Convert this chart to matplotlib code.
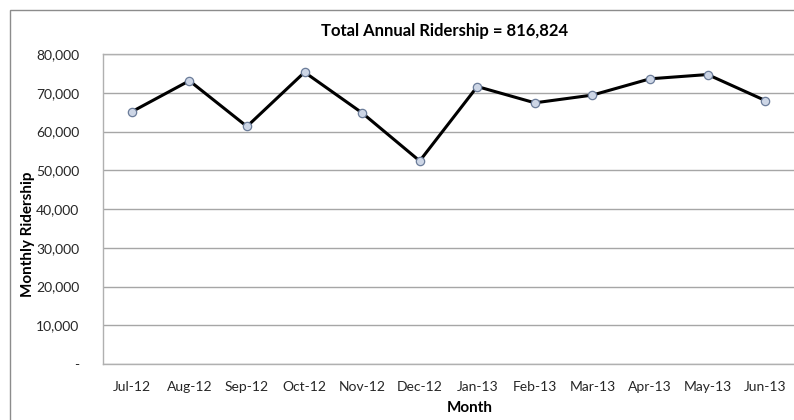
import matplotlib.pyplot as plt
from matplotlib.patches import Rectangle
from matplotlib.ticker import FuncFormatter

# ---- DATI ----
months = ["Jul-12", "Aug-12", "Sep-12", "Oct-12", "Nov-12", "Dec-12",
          "Jan-13", "Feb-13", "Mar-13", "Apr-13", "May-13", "Jun-13"]
ridership = [65100, 73100, 61300, 75300, 64800, 52400,
             71600, 67400, 69400, 73600, 74700, 68000]
yticks = [0, 10000, 20000, 30000, 40000, 50000, 60000, 70000, 80000]

plt.rcParams['font.family'] = ['Lato', 'DejaVu Sans']

W, H = 794, 420
fig = plt.figure(figsize=(W / 100, H / 100), dpi=100)

# cornice esterna del grafico (esce oltre l'immagine a destra e in basso)
fig.patches.append(Rectangle((10 / W, -0.1), 1.2, 1 - 10 / H + 0.1,
                             transform=fig.transFigure, fill=False,
                             edgecolor='#8c8c8c', linewidth=1.0))

ax = fig.add_axes([103 / W, 1 - 364 / H, (W - 103) / W, (364 - 54) / H])
x = range(len(months))
ax.plot(x, ridership, color='black', linewidth=2.2, zorder=3,
        marker='o', markersize=6, markerfacecolor='#cdd6e6',
        markeredgecolor='#6b7c99', markeredgewidth=0.9)

ax.set_xlim(-0.5, len(months) - 0.5)
ax.set_ylim(0, 80000)
ax.set_yticks(yticks)
ax.yaxis.set_major_formatter(FuncFormatter(lambda v, p: '-' if v == 0 else f"{int(v):,}"))
ax.set_xticks(list(x))
ax.set_xticklabels(months)
ax.grid(axis='y', color='#a6a6a6', linewidth=1.0, zorder=0)
ax.tick_params(axis='both', length=0, labelsize=10, colors='#262626')
ax.tick_params(axis='y', pad=17)
ax.tick_params(axis='x', pad=12)
for s in ['left', 'bottom', 'top']:
    ax.spines[s].set_color('#b0b0b0')
    ax.spines[s].set_linewidth(1.0)
ax.spines['right'].set_visible(False)

fig.text(445 / W, 1 - 31 / H, "Total Annual Ridership = 816,824",
         ha='center', va='center', fontsize=12, fontweight='bold')
fig.text(28 / W, 1 - 234 / H, "Monthly Ridership", rotation=90,
         ha='center', va='center', fontsize=11, fontweight='bold')
fig.text(470 / W, 1 - 408 / H, "Month",
         ha='center', va='center', fontsize=11, fontweight='bold')

fig.savefig("out.png", dpi=100)
